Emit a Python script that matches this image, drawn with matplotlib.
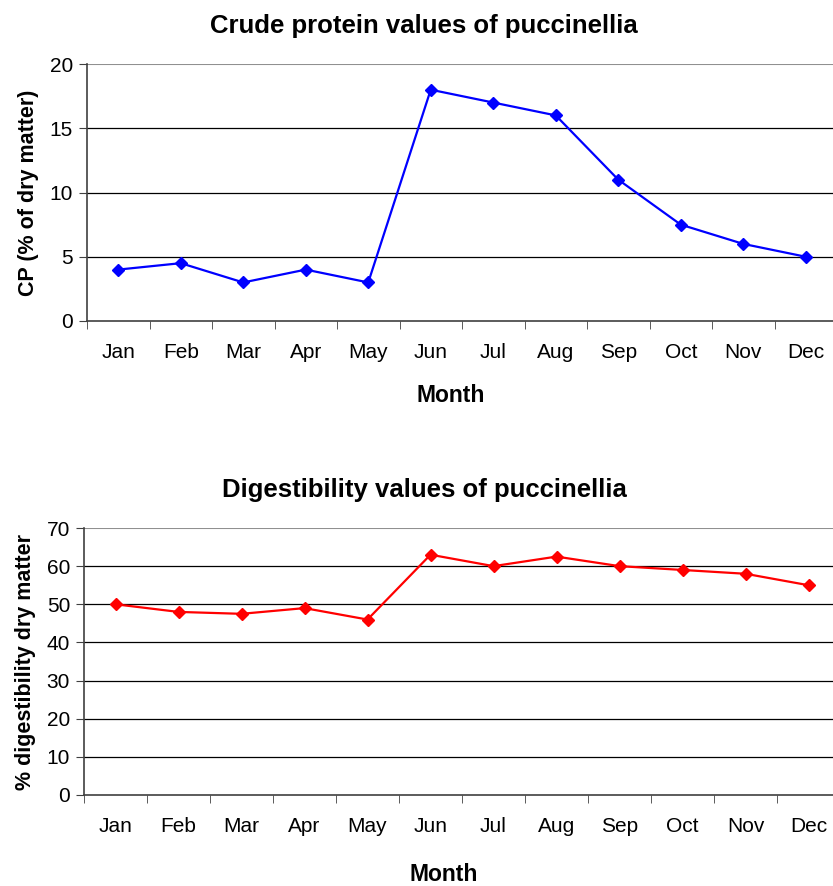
import matplotlib
matplotlib.use("Agg")
import matplotlib.pyplot as plt
import numpy as np
from matplotlib.ticker import FixedLocator

plt.rcParams["font.family"] = ["Liberation Sans", "DejaVu Sans"]

months = ["Jan", "Feb", "Mar", "Apr", "May", "Jun",
          "Jul", "Aug", "Sep", "Oct", "Nov", "Dec"]
crude_protein = [4, 4.5, 3, 4, 3, 18, 17, 16, 11, 7.5, 6, 5]
digestibility = [50, 48, 47.5, 49, 46, 63, 60, 62.5, 60, 59, 58, 55]

W, H = 833, 886
fig = plt.figure(figsize=(W / 100, H / 100), dpi=100)


def px_axes(left, top, right, bottom):
    return fig.add_axes([left / W, 1 - bottom / H, (right - left) / W, (bottom - top) / H])


def style(ax, values, color, ymax, ystep, title, ylabel, month_pad, title_x, month_x):
    x = np.arange(len(months))
    ax.plot(x, values, color=color, lw=1.6, marker="D", ms=6.5, zorder=3, clip_on=False)
    ax.set_xlim(-0.5, len(months) - 0.5)
    ax.set_ylim(0, ymax)
    ax.set_yticks(np.arange(0, ymax + 1, ystep))
    for y in np.arange(ystep, ymax, ystep):
        ax.axhline(y, color="black", lw=0.9, zorder=1)
    ax.axhline(ymax, color="#909090", lw=1.5, zorder=1)
    ax.set_xticks(x)
    ax.set_xticklabels(months)
    ax.xaxis.set_minor_locator(FixedLocator(np.arange(-0.5, len(months), 1.0)))
    ax.tick_params(axis="x", which="major", length=0, pad=16, labelsize=15)
    ax.tick_params(axis="x", which="minor", length=6, direction="out", color="#404040")
    ax.tick_params(axis="y", length=6, direction="out", color="#404040", labelsize=15, pad=4)
    for s in ["top", "right"]:
        ax.spines[s].set_visible(False)
    for s in ["left", "bottom"]:
        ax.spines[s].set_color("#404040")
        ax.spines[s].set_linewidth(1.2)
    ax.set_title(title, fontsize=18.5, fontweight="bold", pad=22, x=title_x)
    ax.set_xlabel("Month", fontsize=16.5, fontweight="bold", labelpad=month_pad)
    ax.xaxis.label.set_x(month_x)
    ax.set_ylabel(ylabel, fontsize=15.5, fontweight="bold", labelpad=8)


ax1 = px_axes(87, 64, 837, 321)
style(ax1, crude_protein, "#0000ff", 20, 5,
      "Crude protein values of puccinellia", "CP (% of dry matter)", 16, 0.449, 0.485)

ax2 = px_axes(84, 528, 840, 795)
style(ax2, digestibility, "#ff0000", 70, 10,
      "Digestibility values of puccinellia", "% digestibility dry matter", 19, 0.45, 0.476)

fig.savefig("out.png", dpi=100)
